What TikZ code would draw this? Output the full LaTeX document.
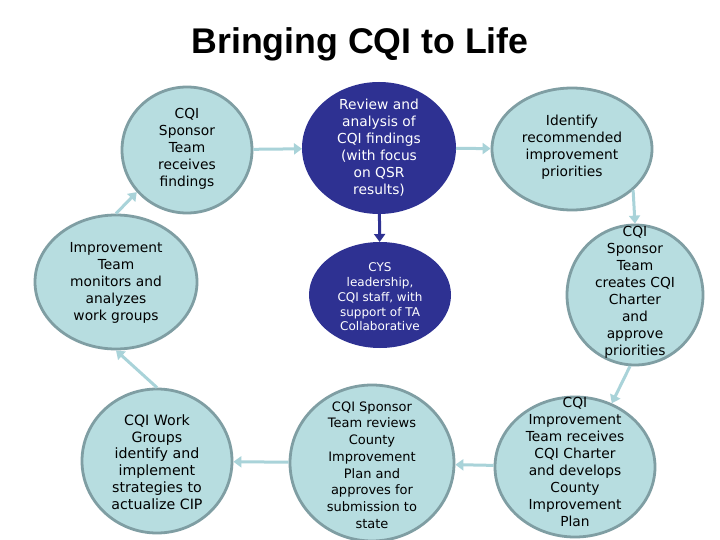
\documentclass[tikz,border=0pt]{standalone}
\usepackage{fontspec}
\setmainfont{DejaVu Sans}
\newfontfamily\titlefont{Liberation Sans}
\usetikzlibrary{arrows.meta,shapes.geometric}
\definecolor{lightfill}{HTML}{B7DDE0}
\definecolor{lightline}{HTML}{7F9EA3}
\definecolor{arrowcol}{HTML}{A9D3D9}
\definecolor{darkfill}{HTML}{2E3192}
\begin{document}
\begin{tikzpicture}[x=1pt,y=-1pt,
  lightel/.style={ellipse, draw=lightline, line width=2.8pt, fill=lightfill, inner sep=0pt},
  darkel/.style={ellipse, draw=darkfill, line width=2pt, fill=darkfill, inner sep=0pt},
  txt/.style={align=center, font=\fontsize{13.8}{17}\selectfont, inner sep=0pt},
  wtxt/.style={txt, text=white},
  arr/.style={draw=arrowcol, line width=3pt, -{Triangle[width=11pt,length=8pt]}},
  darr/.style={draw=darkfill, line width=3pt, -{Triangle[width=11pt,length=8pt]}}
]
\fill[white] (0,0) rectangle (720,540);
\useasboundingbox (0,0) rectangle (720,540);

\node[font=\titlefont\bfseries\fontsize{35.7}{40}\selectfont, inner sep=0pt] (title) at (360,44) {Bringing CQI to Life};

\node[lightel, minimum width=130pt, minimum height=126pt] (n1) at (187,150) {};
\node[darkel, minimum width=152pt, minimum height=130pt] (n2) at (379,148) {};
\node[lightel, minimum width=160pt, minimum height=122pt] (n3) at (572,149) {};
\node[lightel, minimum width=162pt, minimum height=134pt] (n4) at (116,282) {};
\node[darkel, minimum width=140pt, minimum height=104pt] (n5) at (380,295) {};
\node[lightel, minimum width=136pt, minimum height=140pt] (n6) at (635,295) {};
\node[lightel, minimum width=150pt, minimum height=144pt] (n7) at (157,461) {};
\node[lightel, minimum width=164pt, minimum height=156pt] (n8) at (372,463) {};
\node[lightel, minimum width=160pt, minimum height=140pt] (n9) at (575,467) {};

\node[txt] (t1) at (187,149) {CQI\\Sponsor\\Team\\receives\\findings};
\node[wtxt] (t2) at (379,148) {Review and\\analysis of\\CQI findings\\(with focus\\on QSR\\results)};
\node[txt] (t3) at (572,147) {Identify\\recommended\\improvement\\priorities};
\node[txt] (t4) at (116,283) {Improvement\\Team\\monitors and\\analyzes\\work groups};
\node[wtxt, font=\fontsize{12}{14.7}\selectfont] (t5) at (380,297) {CYS\\leadership,\\CQI staff, with\\support of TA\\Collaborative};
\node[txt] (t6) at (635,292) {CQI\\Sponsor\\Team\\creates CQI\\Charter\\and\\approve\\priorities};
\node[txt, font=\fontsize{14.2}{16.7}\selectfont] (t7) at (157,462) {CQI Work\\Groups\\identify and\\implement\\strategies to\\actualize CIP};
\node[txt, font=\fontsize{13}{16.7}\selectfont] (t8) at (372,465) {CQI Sponsor\\Team reviews\\County\\Improvement\\Plan and\\approves for\\submission to\\state};
\node[txt] (t9) at (575,462) {CQI\\Improvement\\Team receives\\CQI Charter\\and develops\\County\\Improvement\\Plan};

\draw[arr] (n1) -- (n2);
\draw[arr] (n2) -- (n3);
\draw[arr] (n3.-34) -- (n6.north);
\draw[arr] (n6.-94) -- (n9.60);
\draw[arr] (n9) -- (n8);
\draw[arr] (n8) -- (n7);
\draw[arr] (n7.north) -- (n4.south);
\draw[arr] (n4.north) -- (n1.-140);
\draw[darr] (n2) -- (n5);
\end{tikzpicture}
\end{document}
